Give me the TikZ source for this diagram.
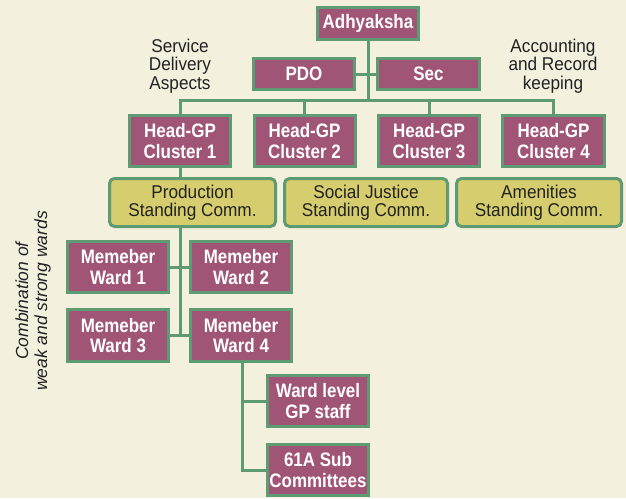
\documentclass[tikz,border=0pt]{standalone}
\usepackage{fontspec}
\setmainfont{Liberation Sans}
\newfontfamily\narrowsans[FakeStretch=0.93]{Liberation Sans}
\newfontfamily\narrowbold[FakeStretch=0.87]{Liberation Sans Bold}
\definecolor{bgcream}{HTML}{F3F0DE}
\definecolor{edgegreen}{HTML}{5E9A72}
\definecolor{boxpurple}{HTML}{A15576}
\definecolor{commyellow}{HTML}{D6CD6E}
\definecolor{inkdark}{HTML}{222222}
\begin{document}
\begin{tikzpicture}[x=1pt,y=-1pt,
  office/.style={draw=edgegreen, line width=3pt, fill=boxpurple, text=white,
    font=\narrowbold\fontsize{19.5}{20.5}\selectfont, align=center, inner sep=0pt,
    minimum width=101pt, minimum height=51pt},
  committee/.style={draw=edgegreen, line width=3pt, fill=commyellow, text=inkdark,
    rounded corners=5pt, font=\narrowsans\fontsize{18.5}{18.5}\selectfont, align=center,
    inner sep=0pt, minimum height=48pt},
  note/.style={text=inkdark, font=\narrowsans\fontsize{18.5}{18.5}\selectfont, align=center, inner sep=0pt},
  link/.style={draw=edgegreen, line width=3pt}]
\useasboundingbox (0,0) rectangle (626,498);
\fill[bgcream] (0,0) rectangle (626,498);

% top officials
\node[office, minimum height=32pt] (adh) at (368,23.5) {Adhyaksha};
\node[office, minimum height=31pt] (pdo) at (304,74) {PDO};
\node[office, minimum height=31pt, minimum width=102pt] (sec) at (428.5,74) {Sec};

% cluster heads
\node[office] (c1) at (180,141) {Head-GP\\Cluster 1};
\node[office] (c2) at (304.5,141) {Head-GP\\Cluster 2};
\node[office] (c3) at (429,141) {Head-GP\\Cluster 3};
\node[office, minimum width=102pt] (c4) at (553.5,141) {Head-GP\\Cluster 4};

% standing committees
\node[committee, minimum width=166pt] (prod) at (192.5,202.5) {Production\\Standing Comm.};
\node[committee, minimum width=163pt] (soc) at (366,202.5) {Social Justice\\Standing Comm.};
\node[committee, minimum width=165pt] (amen) at (539,202.5) {Amenities\\Standing Comm.};

% ward members
\node[office] (w1) at (118,267) {Memeber\\Ward 1};
\node[office] (w2) at (241,267) {Memeber\\Ward 2};
\node[office, minimum height=52pt] (w3) at (118,335.5) {Memeber\\Ward 3};
\node[office, minimum height=52pt] (w4) at (241,335.5) {Memeber\\Ward 4};

% ward level bodies
\node[office] (staff) at (318,401) {Ward level\\GP staff};
\node[office] (sub) at (318,470) {61A Sub\\Committees};

% side notes
\node[note] (svc) at (180,66) {Service\\Delivery\\Aspects};
\node[note] (acc) at (553,66) {Accounting\\and Record\\keeping};
\node[note, rotate=90, font=\fontsize{17.5}{19}\selectfont\itshape] (comb) at (33,301)
  {Combination of\\weak and strong wards};

% connectors
\coordinate (bus) at (367,100);
\draw[link] (adh.south) -- (adh.south |- bus);
\draw[link] (pdo.east) -- (sec.west);
\draw[link] (c1.north) |- (bus) -| (c4.north);
\draw[link] (c2.north) -- (c2.north |- bus);
\draw[link] (c3.north) -- (c3.north |- bus);
\draw[link] (c1.south) -- (c1.south |- prod.north);

\coordinate (spine) at (180,335.5);
\draw[link] (c1.south |- prod.south) -- (spine);
\draw[link] (w1.east) -- (w2.west);
\draw[link] (w3.east) -- (w4.west);

\coordinate (drop) at (242,470);
\draw[link] (w4.south -| drop) -- (drop) -- (sub.west);
\draw[link] (staff.west) -- (staff.west -| drop);
\end{tikzpicture}
\end{document}
